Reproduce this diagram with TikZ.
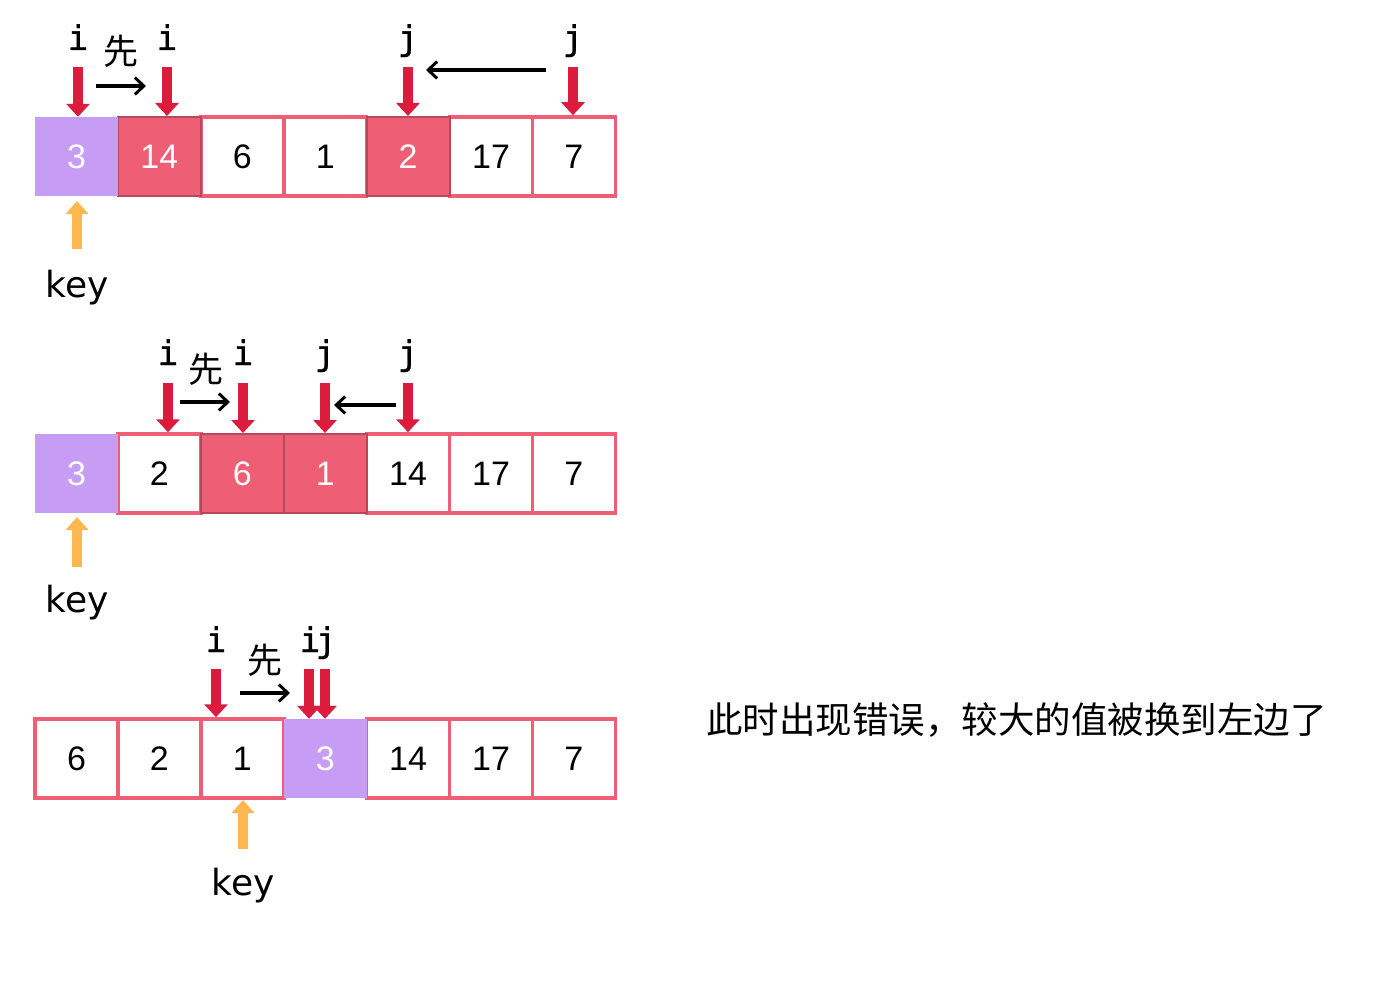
\documentclass[tikz,border=0pt]{standalone}
\usepackage{fontspec}
\setmainfont{Liberation Sans}
\newfontfamily\cjk{Noto Sans CJK SC}
\newfontfamily\monof[FakeBold=0.9]{DejaVu Sans Mono}
\newfontfamily\keyf{DejaVu Sans}
\usetikzlibrary{arrows.meta}
\definecolor{cellred}{HTML}{EE5F76}
\definecolor{darkred}{HTML}{B8485B}
\definecolor{keypurple}{HTML}{C69CF5}
\definecolor{arrred}{HTML}{DC1C3C}
\definecolor{arrorange}{HTML}{FFB74F}
\begin{document}
\begin{tikzpicture}[x=1pt,y=-1pt,
  cell/.style={minimum width=82.9pt,minimum height=79pt,inner sep=0pt,font=\fontsize{34}{40}\selectfont},
  wcell/.style={cell,draw=cellred,line width=3.5pt,fill=white},
  rcell/.style={cell,draw=darkred,line width=2pt,fill=cellred,text=white},
  pcell/.style={cell,fill=keypurple,text=white},
  redarr/.style={draw=arrred,line width=9.5pt,-{Triangle[width=23pt,length=13pt]}},
  orarr/.style={draw=arrorange,line width=10pt,-{Triangle[width=22pt,length=13pt]}},
  blk/.style={line width=3.3pt,-{Straight Barb[length=9pt,width=17pt,line width=3pt]}},
  ptr/.style={font=\monof\fontsize{34}{40}\selectfont,anchor=base,inner sep=0pt},
  xian/.style={font=\cjk\fontsize{35}{40}\selectfont,anchor=base,inner sep=0pt},
  keylab/.style={font=\keyf\fontsize{36}{42}\selectfont,anchor=base,inner sep=0pt}]
\useasboundingbox (0,0) rectangle (1380,1000);
\fill[white] (0,0) rectangle (1380,1000);

% ---------- row 1 ----------
\node[wcell] (a2) at (242.3,156.5) {6};
\node[wcell] (a3) at (325.2,156.5) {1};
\node[wcell] (a5) at (491.0,156.5) {17};
\node[wcell] (a6) at (573.9,156.5) {7};
\node[rcell] (a1) at (159.4,156.5) {14};
\node[rcell] (a4) at (408.1,156.5) {2};
\node[pcell] (a0) at (76.5,156.5) {3};

\node[ptr] (ai1) at (78,50) {i};
\node[ptr] (ai2) at (167,50) {i};
\node[xian] (ax) at (121,65) {先};
\node[ptr] (aj1) at (408,50) {j};
\node[ptr] (aj2) at (573,50) {j};
\coordinate (ta1) at (78,67);
\coordinate (ta2) at (167,67);
\coordinate (ta3) at (408,67);
\coordinate (ta4) at (573,67);
\draw[redarr] (ta1) -- (ta1 |- a0.north);
\draw[redarr] (ta2) -- (ta2 |- a1.north);
\draw[redarr] (ta3) -- (ta3 |- a4.north);
\draw[redarr] (ta4) -- (ta4 |- a6.north);
\coordinate (ba1) at (96,86);
\coordinate (ba2) at (146,86);
\draw[blk] (ba1) -- (ba2);
\coordinate (bb1) at (546,70);
\coordinate (bb2) at (426,70);
\draw[blk] (bb1) -- (bb2);
\coordinate (oa) at (77,249);
\coordinate (oat) at (77,201);
\draw[orarr] (oa) -- (oat);
\node[keylab] (ka) at (77,297) {key};

% ---------- row 2 ----------
\node[wcell] (b1) at (159.4,473.5) {2};
\node[wcell] (b4) at (408.1,473.5) {14};
\node[wcell] (b5) at (491.0,473.5) {17};
\node[wcell] (b6) at (573.9,473.5) {7};
\node[rcell] (b2) at (242.3,473.5) {6};
\node[rcell] (b3) at (325.2,473.5) {1};
\node[pcell] (b0) at (76.5,473.5) {3};

\node[ptr] (bi1) at (168,365) {i};
\node[ptr] (bi2) at (243,365) {i};
\node[xian] (bx) at (206,382) {先};
\node[ptr] (bj1) at (325,365) {j};
\node[ptr] (bj2) at (408,365) {j};
\coordinate (tb1) at (168,383);
\coordinate (tb2) at (243,383);
\coordinate (tb3) at (325,383);
\coordinate (tb4) at (408,383);
\draw[redarr] (tb1) -- (tb1 |- b1.north);
\draw[redarr] (tb2) -- (tb2 |- b2.north);
\draw[redarr] (tb3) -- (tb3 |- b3.north);
\draw[redarr] (tb4) -- (tb4 |- b4.north);
\coordinate (bc1) at (180,402);
\coordinate (bc2) at (230,402);
\draw[blk] (bc1) -- (bc2);
\coordinate (bd1) at (396,405);
\coordinate (bd2) at (334,405);
\draw[blk] (bd1) -- (bd2);
\coordinate (ob) at (77,567);
\coordinate (obt) at (77,517);
\draw[orarr] (ob) -- (obt);
\node[keylab] (kb) at (77,612) {key};

% ---------- row 3 ----------
\node[wcell] (c0) at (76.5,758.5) {6};
\node[wcell] (c1) at (159.4,758.5) {2};
\node[wcell] (c2) at (242.3,758.5) {1};
\node[wcell] (c4) at (408.1,758.5) {14};
\node[wcell] (c5) at (491.0,758.5) {17};
\node[wcell] (c6) at (573.9,758.5) {7};
\node[pcell] (c3) at (325.2,758.5) {3};

\node[ptr] (ci1) at (216,652) {i};
\node[ptr] (cij) at (318,652) {i\kern-4.5pt j};
\node[xian] (cx) at (265,673) {先};
\coordinate (tc1) at (216,669);
\coordinate (tc2) at (309,669);
\coordinate (tc3) at (325,669);
\draw[redarr] (tc1) -- (tc1 |- c2.north);
\draw[redarr] (tc2) -- (tc2 |- c3.north);
\draw[redarr] (tc3) -- (tc3 |- c3.north);
\coordinate (be1) at (240,693);
\coordinate (be2) at (290,693);
\draw[blk] (be1) -- (be2);
\coordinate (oc) at (243,849);
\coordinate (oct) at (243,800);
\draw[orarr] (oc) -- (oct);
\node[keylab] (kc) at (243,895) {key};

\node[font=\cjk\fontsize{36.5}{42}\selectfont,anchor=base west,inner sep=0pt] (msg) at (706,733) {此时出现错误，较大的值被换到左边了};
\end{tikzpicture}
\end{document}
